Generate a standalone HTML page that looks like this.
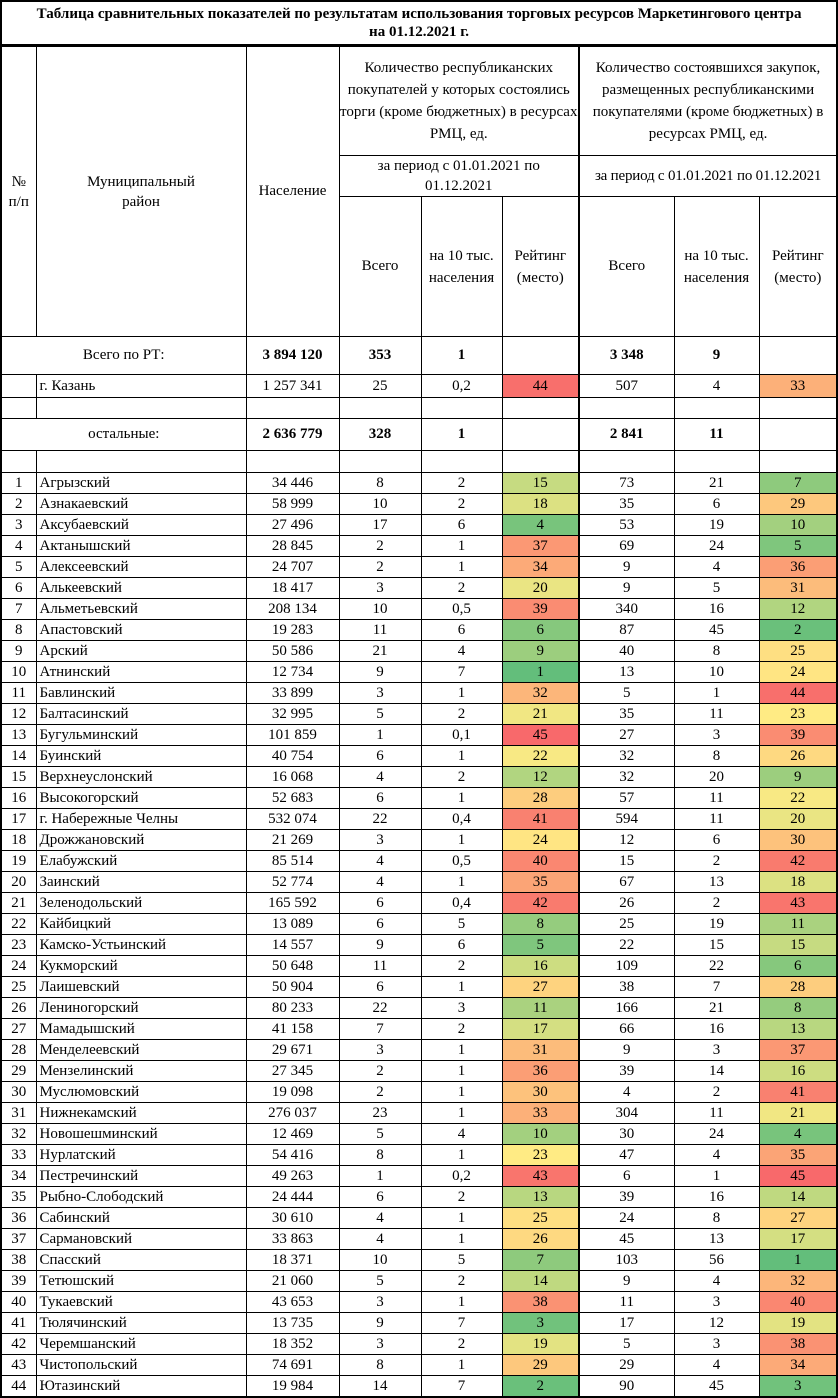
<!DOCTYPE html>
<html><head><meta charset="utf-8">
<style>
html,body{margin:0;padding:0;background:#fff}
body{width:838px;height:1397px;overflow:hidden;font-family:"Liberation Serif",serif;font-size:15px;color:#000}
table{border-collapse:collapse;table-layout:fixed;width:837px;border:2px solid #000}
td{border:1px solid #000;padding:0;text-align:center;vertical-align:middle;line-height:21px;overflow:hidden;white-space:nowrap}
td.l{text-align:left;padding-left:3px}
td.w{white-space:normal;line-height:23px}
.title{font-weight:bold;font-size:15px;border-bottom:3px solid #000;height:42px}
.tk{border-right:2px solid #000}
tr.d td{height:20px;line-height:19px}
b{font-weight:bold}
</style></head><body>
<table id="t">
<colgroup><col style="width:35px"><col style="width:210px"><col style="width:93px"><col style="width:82px"><col style="width:81px"><col style="width:77px"><col style="width:95px"><col style="width:85px"><col style="width:78px"></colgroup>
<tr><td colspan="9" class="title w" style="line-height:18px">Таблица сравнительных показателей по результатам использования торговых ресурсов Маркетингового центра<br>на 01.12.2021 г.</td></tr>
<tr style="height:110px"><td rowspan="3" class="w" style="line-height:20px">№<br>п/п</td><td rowspan="3" class="w" style="line-height:20px">Муниципальный<br>район</td><td rowspan="3">Население</td>
<td colspan="3" class="w tk" style="line-height:22px">Количество республиканских покупателей у которых состоялись торги (кроме бюджетных) в ресурсах РМЦ, ед.</td>
<td colspan="3" class="w" style="line-height:22px">Количество состоявшихся закупок, размещенных республиканскими покупателями (кроме бюджетных) в ресурсах РМЦ, ед.</td></tr>
<tr style="height:40px"><td colspan="3" class="w tk" style="line-height:20px">за период с 01.01.2021 по<br>01.12.2021</td><td colspan="3" style="letter-spacing:-0.2px">за период с 01.01.2021 по 01.12.2021</td></tr>
<tr style="height:140px"><td>Всего</td><td class="w" style="line-height:22px">на 10 тыс. населения</td><td class="w tk" style="line-height:22px">Рейтинг (место)</td><td>Всего</td><td class="w" style="line-height:22px">на 10 тыс. населения</td><td class="w" style="line-height:22px">Рейтинг (место)</td></tr>
<tr style="height:38px"><td colspan="2">Всего по РТ:</td><td><b>3 894 120</b></td><td><b>353</b></td><td><b>1</b></td><td class="tk"></td><td><b>3 348</b></td><td><b>9</b></td><td></td></tr>
<tr style="height:23px"><td></td><td class="l">г. Казань</td><td>1 257 341</td><td>25</td><td>0,2</td><td class="tk" id="kz1">44</td><td>507</td><td>4</td><td id="kz2">33</td></tr>
<tr style="height:21px"><td></td><td></td><td></td><td></td><td></td><td class="tk"></td><td></td><td></td><td></td></tr>
<tr style="height:32px"><td colspan="2">остальные:</td><td><b>2 636 779</b></td><td><b>328</b></td><td><b>1</b></td><td class="tk"></td><td><b>2 841</b></td><td><b>11</b></td><td></td></tr>
<tr style="height:22px"><td></td><td></td><td></td><td></td><td></td><td class="tk"></td><td></td><td></td><td></td></tr>
</table>
<script>
var D=`Агрызский|34 446|8|2|15|73|21|7
Азнакаевский|58 999|10|2|18|35|6|29
Аксубаевский|27 496|17|6|4|53|19|10
Актанышский|28 845|2|1|37|69|24|5
Алексеевский|24 707|2|1|34|9|4|36
Алькеевский|18 417|3|2|20|9|5|31
Альметьевский|208 134|10|0,5|39|340|16|12
Апастовский|19 283|11|6|6|87|45|2
Арский|50 586|21|4|9|40|8|25
Атнинский|12 734|9|7|1|13|10|24
Бавлинский|33 899|3|1|32|5|1|44
Балтасинский|32 995|5|2|21|35|11|23
Бугульминский|101 859|1|0,1|45|27|3|39
Буинский|40 754|6|1|22|32|8|26
Верхнеуслонский|16 068|4|2|12|32|20|9
Высокогорский|52 683|6|1|28|57|11|22
г. Набережные Челны|532 074|22|0,4|41|594|11|20
Дрожжановский|21 269|3|1|24|12|6|30
Елабужский|85 514|4|0,5|40|15|2|42
Заинский|52 774|4|1|35|67|13|18
Зеленодольский|165 592|6|0,4|42|26|2|43
Кайбицкий|13 089|6|5|8|25|19|11
Камско-Устьинский|14 557|9|6|5|22|15|15
Кукморский|50 648|11|2|16|109|22|6
Лаишевский|50 904|6|1|27|38|7|28
Лениногорский|80 233|22|3|11|166|21|8
Мамадышский|41 158|7|2|17|66|16|13
Менделеевский|29 671|3|1|31|9|3|37
Мензелинский|27 345|2|1|36|39|14|16
Муслюмовский|19 098|2|1|30|4|2|41
Нижнекамский|276 037|23|1|33|304|11|21
Новошешминский|12 469|5|4|10|30|24|4
Нурлатский|54 416|8|1|23|47|4|35
Пестречинский|49 263|1|0,2|43|6|1|45
Рыбно-Слободский|24 444|6|2|13|39|16|14
Сабинский|30 610|4|1|25|24|8|27
Сармановский|33 863|4|1|26|45|13|17
Спасский|18 371|10|5|7|103|56|1
Тетюшский|21 060|5|2|14|9|4|32
Тукаевский|43 653|3|1|38|11|3|40
Тюлячинский|13 735|9|7|3|17|12|19
Черемшанский|18 352|3|2|19|5|3|38
Чистопольский|74 691|8|1|29|29|4|34
Ютазинский|19 984|14|7|2|90|45|3`.split("\n");
function col(r){var t=(r-1)/44,a,b,u;var G=[99,190,123],Y=[255,235,132],R=[248,105,107];
if(t<0.5){a=G;b=Y;u=t/0.5}else{a=Y;b=R;u=(t-0.5)/0.5}
return "rgb("+a.map(function(v,i){return Math.round(v+(b[i]-v)*u)}).join(",")+")";}
var tb=document.getElementById("t").tBodies[0],h="";
D.forEach(function(l,i){var p=l.split("|");
h+='<tr class="d"><td>'+(i+1)+'</td><td class="l">'+p[0]+'</td><td>'+p[1]+'</td><td>'+p[2]+'</td><td>'+p[3]+'</td><td class="tk" style="background:'+col(+p[4])+'">'+p[4]+'</td><td>'+p[5]+'</td><td>'+p[6]+'</td><td style="background:'+col(+p[7])+'">'+p[7]+'</td></tr>';});
tb.insertAdjacentHTML("beforeend",h);
document.getElementById("kz1").style.background=col(44);
document.getElementById("kz2").style.background=col(33);
</script>
</body></html>
